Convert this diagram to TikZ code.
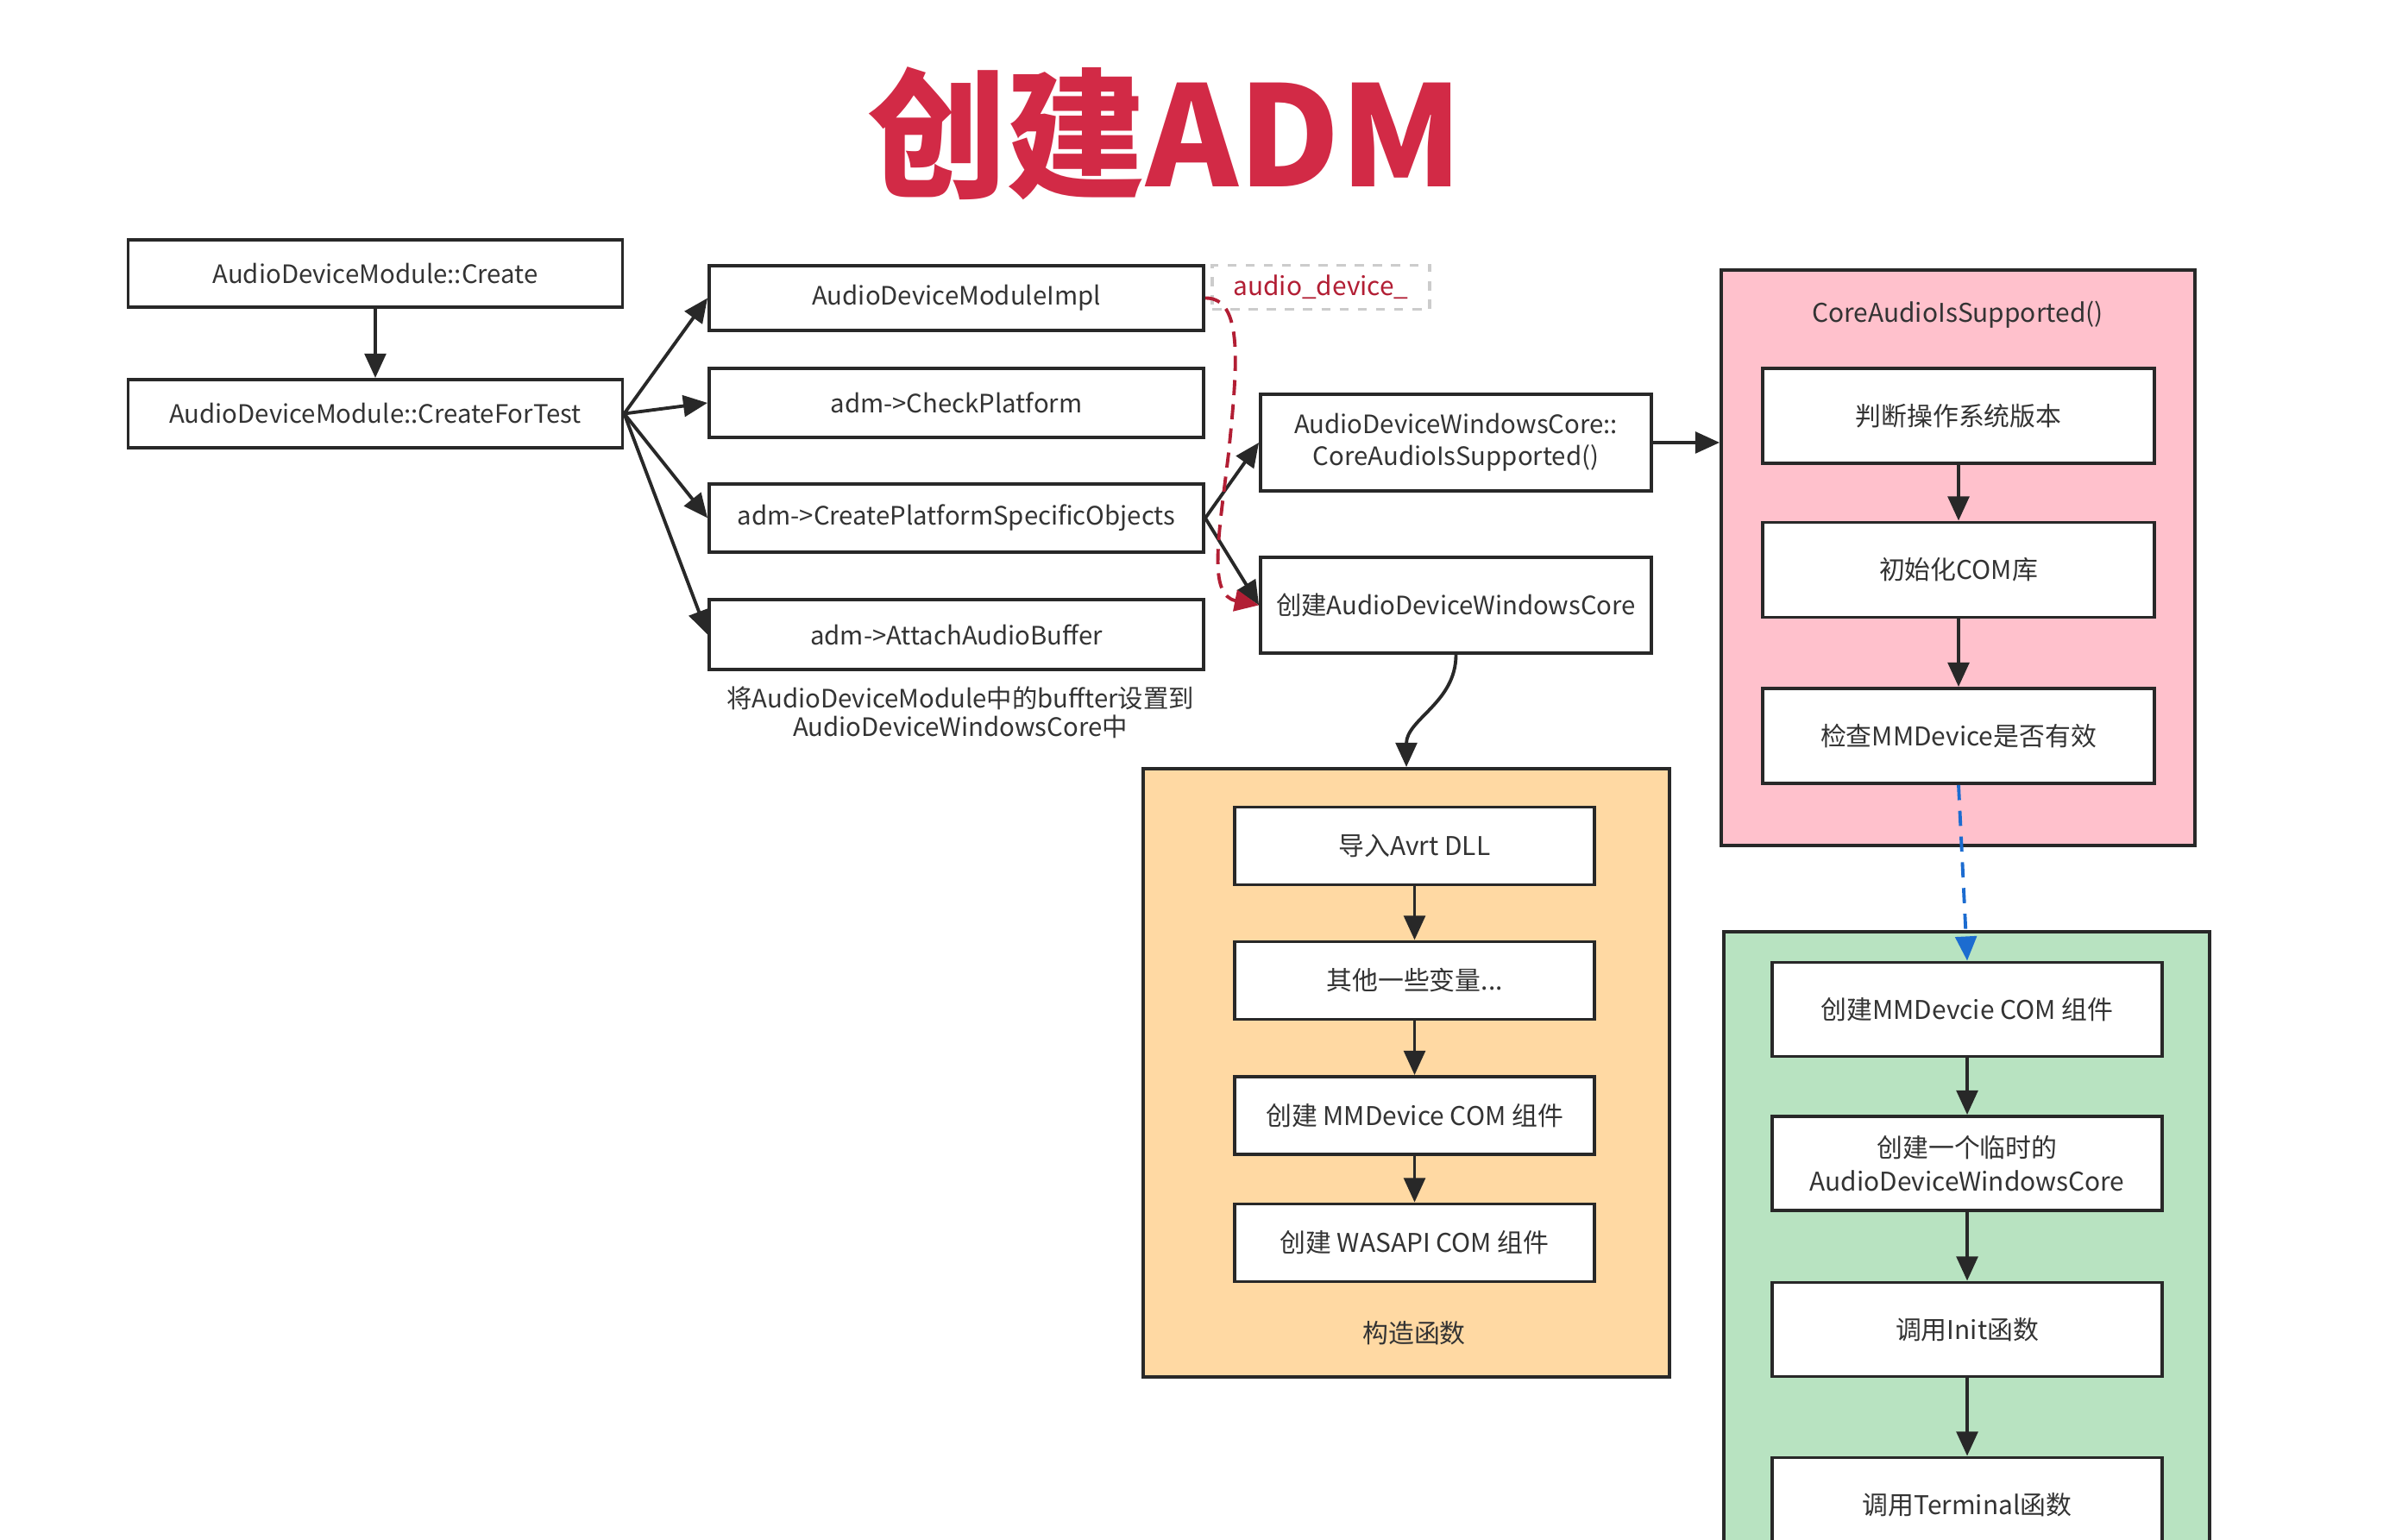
\documentclass[tikz,border=0pt]{standalone}
\usepackage{fontspec}
\setmainfont{Noto Sans CJK SC}
\usepackage{xcolor}
\usepackage{tikz}
\usetikzlibrary{arrows.meta}

\definecolor{titlered}{RGB}{210,42,70}
\definecolor{linkred}{RGB}{178,30,52}
\definecolor{ctorfill}{RGB}{255,217,163}
\definecolor{supportfill}{RGB}{255,193,204}
\definecolor{testfill}{RGB}{184,227,193}
\definecolor{edgegray}{RGB}{40,40,40}
\definecolor{flowblue}{RGB}{28,108,208}

\tikzset{
	box/.style={draw=edgegray,line width=1.1pt,fill=white,text=black!80,font=\fontsize{8.35}{10.5}\selectfont,inner sep=2pt,minimum height=0.79cm,minimum width=5.73cm,align=center},
	stepbox/.style={box,minimum height=1.1cm,font=\fontsize{8.5}{11}\selectfont},
	group/.style={draw=edgegray,line width=1.1pt,minimum width=#1},
	flow/.style={edgegray,line width=1.1pt,-{Triangle[length=8pt,width=7pt]}},
}

\begin{document}
\begin{tikzpicture}
	\useasboundingbox (0,0) rectangle (27.84,17.85);
	\clip (0,0) rectangle (27.84,17.85);
	\fill[white] (0,0) rectangle (27.84,17.85);

	\node[font=\fontsize{46}{50}\selectfont\bfseries,text=titlered] (title) at (13.50,16.30) {创建ADM};

	% left part
	\node[box,minimum height=0.78cm] (create) at (4.35,14.68) {AudioDeviceModule::Create};
	\node[box] (createtest) at (4.35,13.055) {AudioDeviceModule::CreateForTest};
	\node[box,minimum height=0.75cm] (impl) at (11.085,14.395) {AudioDeviceModuleImpl};
	\node[box,minimum height=0.80cm] (checkplat) at (11.085,13.18) {adm->CheckPlatform};
	\node[box] (createobjs) at (11.085,11.845) {adm->CreatePlatformSpecificObjects};
	\node[box,minimum height=0.81cm] (attach) at (11.085,10.495) {adm->AttachAudioBuffer};
	\node[font=\fontsize{8.35}{9.4}\selectfont,text=black!80,align=center] (note) at (11.13,9.59) {将AudioDeviceModule中的buffter设置到\\AudioDeviceWindowsCore中};

	\node[draw=black!20,dashed,line width=1pt,text=linkred,font=\fontsize{8.5}{11}\selectfont,minimum width=2.52cm,minimum height=0.50cm] (devlabel) at (15.31,14.52) {audio\_device\_};

	\node[box,minimum width=4.53cm,minimum height=1.12cm] (issupported) at (16.875,12.72) {AudioDeviceWindowsCore::\\CoreAudioIsSupported()};
	\node[box,minimum width=4.53cm,minimum height=1.11cm] (newcore) at (16.875,10.835) {创建AudioDeviceWindowsCore};

	% groups
	\node[group=6.10cm,fill=ctorfill,minimum height=7.05cm] (ctorbox) at (16.30,5.415) {};
	\node[group=5.49cm,fill=supportfill,minimum height=6.67cm] (supportbox) at (22.695,11.385) {};
	\node[group=5.63cm,fill=testfill,minimum height=7.55cm] (testbox) at (22.795,3.275) {};

	\node[stepbox,minimum width=4.17cm,minimum height=0.90cm] (avrt) at (16.395,8.045) {导入Avrt DLL};
	\node[stepbox,minimum width=4.17cm,minimum height=0.90cm] (othervars) at (16.395,6.485) {其他一些变量...};
	\node[stepbox,minimum width=4.17cm,minimum height=0.90cm] (mmdev) at (16.395,4.92) {创建 MMDevice COM 组件};
	\node[stepbox,minimum width=4.17cm,minimum height=0.90cm] (wasapi) at (16.395,3.445) {创建 WASAPI COM 组件};
	\node[font=\fontsize{8.5}{11}\selectfont,text=black!80] (ctorlabel) at (16.39,2.40) {构造函数};

	\node[font=\fontsize{8.5}{11}\selectfont,text=black!80] (supporttitle) at (22.69,14.20) {CoreAudioIsSupported()};
	\node[stepbox,minimum width=4.54cm] (osver) at (22.70,13.03) {判断操作系统版本};
	\node[stepbox,minimum width=4.54cm] (cominit) at (22.70,11.245) {初始化COM库};
	\node[stepbox,minimum width=4.54cm] (mmcheck) at (22.70,9.32) {检查MMDevice是否有效};

	\node[stepbox,minimum width=4.52cm,minimum height=1.09cm] (mmcreate) at (22.80,6.15) {创建MMDevcie COM 组件};
	\node[stepbox,minimum width=4.52cm,minimum height=1.09cm] (tempcore) at (22.80,4.365) {创建一个临时的\\AudioDeviceWindowsCore};
	\node[stepbox,minimum width=4.52cm,minimum height=1.09cm] (callinit) at (22.80,2.44) {调用Init函数};
	\node[stepbox,minimum width=4.52cm,minimum height=1.09cm] (callterm) at (22.80,0.41) {调用Terminal函数};

	% connectors
	\draw[flow] (create) -- (createtest);
	\foreach \n in {impl,checkplat,createobjs,attach}{
		\draw[flow] (createtest.east) -- (\n.west);
	}
	\draw[flow] (createobjs.east) -- (issupported.west);
	\draw[flow] (createobjs.east) -- (newcore.west);
	\draw[linkred,line width=1.1pt,dash pattern=on 5pt off 3pt,-{Triangle[length=8pt,width=7pt]}] (impl.east) .. controls (14.42,14.40) and (14.34,13.6) .. (14.24,12.60) .. controls (14.12,11.60) and (14.00,10.95) .. (newcore.west);
	\draw[flow] (newcore.south) to[out=-90,in=90] (ctorbox.north);
	\draw[flow] (issupported.east) -- (issupported.east -| supportbox.west);

	\draw[flow] (avrt) -- (othervars);
	\draw[flow] (othervars) -- (mmdev);
	\draw[flow] (mmdev) -- (wasapi);

	\draw[flow] (osver) -- (cominit);
	\draw[flow] (cominit) -- (mmcheck);
	\draw[flowblue,line width=1.1pt,dash pattern=on 5pt off 3.5pt,-{Triangle[length=8pt,width=7pt]}] (mmcheck.south) -- (mmcreate.north);

	\draw[flow] (mmcreate) -- (tempcore);
	\draw[flow] (tempcore) -- (callinit);
	\draw[flow] (callinit) -- (callterm);
\end{tikzpicture}
\end{document}
